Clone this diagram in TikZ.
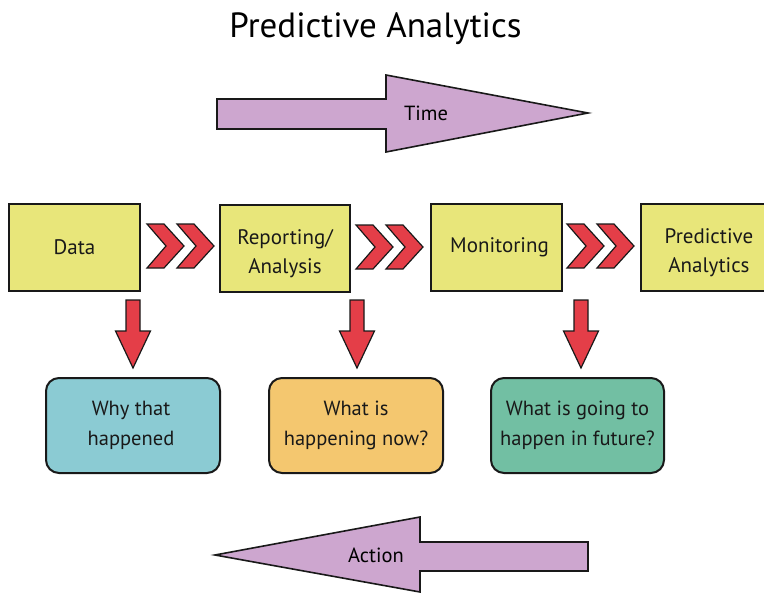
\documentclass[tikz,border=0pt]{standalone}
\usepackage{fontspec}
\setmainfont{PT Sans}
\usetikzlibrary{calc}
\definecolor{stageyellow}{RGB}{232,230,122}
\definecolor{chevred}{RGB}{228,62,72}
\definecolor{timepurple}{RGB}{205,166,207}
\definecolor{qteal}{RGB}{139,203,211}
\definecolor{qorange}{RGB}{244,199,111}
\definecolor{qgreen}{RGB}{114,191,163}
\definecolor{outline}{RGB}{25,25,25}
\tikzset{
  stagebox/.style={draw=outline, line width=2pt, fill=stageyellow,
    minimum width=131pt, minimum height=87pt, anchor=north west, inner sep=0pt},
  qbox/.style={draw=outline, line width=2pt, rounded corners=13pt,
    minimum width=174pt, minimum height=95pt, anchor=north west, inner sep=0pt},
  boxtext/.style={font=\fontsize{21}{29}\selectfont, align=center, text=black!90},
  qtext/.style={font=\fontsize{20.5}{30}\selectfont, align=center, text=black!90},
  flowarrow/.style={draw=outline, line width=1.6pt, fill=timepurple, line join=miter},
  redshape/.style={draw=outline, line width=1.2pt, fill=chevred, line join=miter},
  pics/chevpair/.style={code={
    \foreach \dx in {0,30}{
      \draw[redshape] (\dx,-22) -- (\dx+17,-22) -- (\dx+37,0) -- (\dx+17,22)
        -- (\dx,22) -- (\dx+19,0) -- cycle;}
  }},
  pics/downarrow/.style={code={
    \draw[redshape] (-7,-68) -- (7,-68) -- (7,-37) -- (17.5,-37) -- (0,0)
      -- (-17.5,-37) -- (-7,-37) -- cycle;
  }}
}
\begin{document}
\begin{tikzpicture}[x=1pt,y=-1pt]
\useasboundingbox (0,0) rectangle (764,594);

% title
\node[font=\fontsize{35}{40}\selectfont, anchor=base] (title) at (375.5,38) {Predictive Analytics};

% time arrow
\draw[flowarrow] (217,99) -- (386,99) -- (386,75) -- (588,113) -- (386,152)
  -- (386,129) -- (217,129) -- cycle;
\node[font=\fontsize{20.5}{24}\selectfont] (time) at (426,113) {Time};

% stages
\node[stagebox] (data) at (8,203) {};
\node[boxtext] (datatxt) at (data.center) {Data};
\node[stagebox, minimum width=130pt] (report) at (219,204) {};
\node[boxtext] (reporttxt) at ($(report.center)+(0,5)$) {Reporting/\\Analysis};
\node[stagebox] (monitor) at (430,203) {};
\node[boxtext] (monitortxt) at ($(monitor.center)+(3,0)$) {Monitoring};
\node[stagebox, minimum width=136pt] (predict) at (640,203) {};
\node[boxtext] (predicttxt) at ($(predict.center)+(0,5)$) {Predictive\\Analytics};

% chevrons between stages
\pic at ($(data.east)+(6,-1.5)$) {chevpair};
\pic at ($(report.east)+(5,-1.5)$) {chevpair};
\pic at ($(monitor.east)+(4,-1.5)$) {chevpair};

% questions
\node[qbox, fill=qteal] (q1) at (45,377) {};
\node[qtext] (q1txt) at ($(q1.center)+(-2,0)$) {Why that\\happened};
\node[qbox, fill=qorange] (q2) at (268,377) {};
\node[qtext] (q2txt) at (q2.center) {What is\\happening now?};
\node[qbox, fill=qgreen, minimum width=173pt] (q3) at (490,377) {};
\node[qtext] (q3txt) at (q3.center) {What is going to\\happen in future?};

% downward arrows into the questions
\pic at ($(q1.north)+(0,-9)$) {downarrow};
\pic at ($(q2.north)+(1,-9)$) {downarrow};
\pic at ($(q3.north)+(3.5,-9)$) {downarrow};

% action arrow
\draw[flowarrow] (588,542) -- (420,542) -- (420,517) -- (215,555) -- (420,592)
  -- (420,571) -- (588,571) -- cycle;
\node[font=\fontsize{20.5}{24}\selectfont] (action) at (376,555) {Action};
\end{tikzpicture}
\end{document}
